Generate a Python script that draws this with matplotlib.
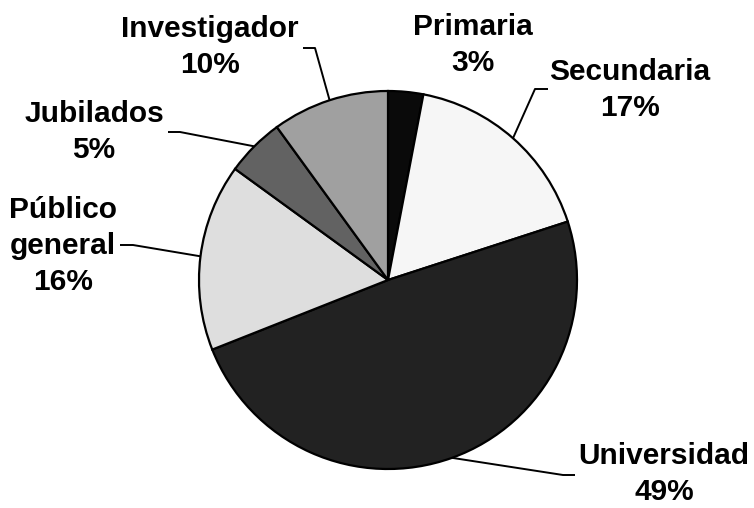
import numpy as np
import matplotlib
matplotlib.use("Agg")
import matplotlib.pyplot as plt

categories = ["Primaria", "Secundaria", "Universidad", "Público\ngeneral", "Jubilados", "Investigador"]
values = [3, 17, 49, 16, 5, 10]
colors = ["#0a0a0a", "#f6f6f6", "#222222", "#dedede", "#626262", "#a0a0a0"]

W, H = 754, 508
fig = plt.figure(figsize=(W / 100, H / 100), dpi=100)
ax = fig.add_axes([0, 0, 1, 1])

cx, cy, R = 388, H - 280, 189
wedges, _ = ax.pie(values, colors=colors, startangle=90, counterclock=False,
                   center=(cx, cy), radius=R,
                   wedgeprops=dict(edgecolor="black", linewidth=1.6))
ax.set_xlim(0, W)
ax.set_ylim(0, H)
ax.set_aspect("equal")
ax.axis("off")

# label layout (pixel coords from top-left): text centre, leader (end, elbow) or None
label_pos = [(473, 45), (630, 90), (664, 474), (63, 246), (94, 132), (210, 47)]
leaders = [None, ((548, 89), (535, 89)), ((575, 475), (563, 475)),
           ((120, 245), (133, 245)), ((168, 132), (180, 132)), ((303, 48), (315, 48))]

for w, cat, v, (tx, ty), ld in zip(wedges, categories, values, label_pos, leaders):
    ax.text(tx, H - ty, f"{cat}\n{v}%", ha="center", va="center",
            fontsize=21.5, fontweight="bold", family="Liberation Sans",
            linespacing=1.38)
    if ld is not None:
        mid = np.deg2rad((w.theta1 + w.theta2) / 2)
        px, py = cx + R * np.cos(mid), cy + R * np.sin(mid)
        (ex, ey), (bx, by) = ld
        ax.plot([ex, bx, px], [H - ey, H - by, py], color="black", lw=1.4,
                solid_capstyle="butt", zorder=0.5)

fig.savefig("out.png", dpi=100, facecolor="white")
